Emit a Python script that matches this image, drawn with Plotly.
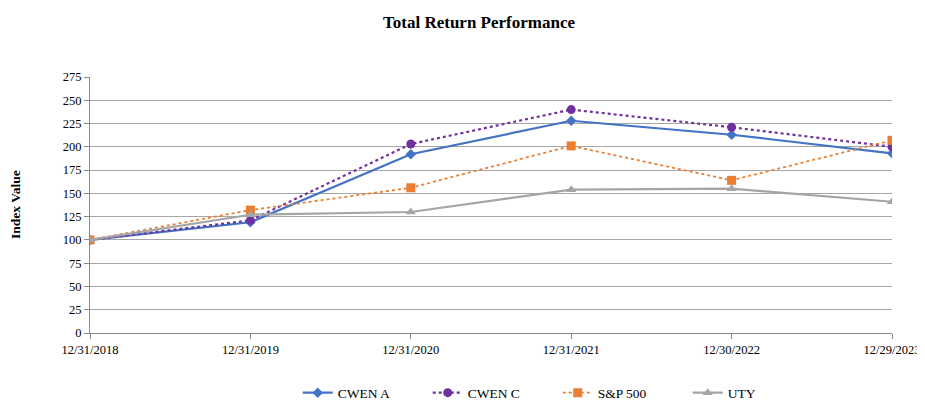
import plotly.graph_objects as go

dates = ["12/31/2018", "12/31/2019", "12/31/2020", "12/31/2021", "12/30/2022", "12/29/2023"]
cwen_a = [100, 119, 192, 228, 213, 193]
cwen_c = [100, 121, 203, 240, 221, 200]
sp500 = [100, 132, 156, 201, 164, 207]
uty = [100, 127, 130, 154, 155, 141]

y_ticks = list(range(0, 276, 25))

fig = go.Figure()
fig.add_trace(go.Scatter(x=dates, y=cwen_a, name="CWEN A", mode="lines+markers",
                         line=dict(color="#4472C4", width=2.2),
                         marker=dict(symbol="diamond", size=8, color="#4472C4")))
fig.add_trace(go.Scatter(x=dates, y=cwen_c, name="CWEN C", mode="lines+markers",
                         line=dict(color="#7030A0", width=2.2, dash="dot"),
                         marker=dict(symbol="circle", size=9, color="#7030A0")))
fig.add_trace(go.Scatter(x=dates, y=sp500, name="S&P 500", mode="lines+markers",
                         line=dict(color="#ED7D31", width=1.8, dash="dot"),
                         marker=dict(symbol="square", size=9, color="#ED7D31")))
fig.add_trace(go.Scatter(x=dates, y=uty, name="UTY", mode="lines+markers",
                         line=dict(color="#A5A5A5", width=2.2),
                         marker=dict(symbol="triangle-up", size=9, color="#A5A5A5")))

font = "Liberation Serif, Times New Roman, serif"
W, H = 917, 393
fig.update_layout(
    width=W, height=H,
    margin=dict(l=82, r=33, t=69, b=68, autoexpand=False),
    paper_bgcolor="white", plot_bgcolor="white",
    font=dict(family=font, size=12.5, color="#000000"),
    title=dict(text="<b>Total Return Performance</b>", x=471 / W, xref="container", xanchor="center",
               y=1 - 14 / H, yanchor="middle", font=dict(family=font, size=17, color="#000000")),
    showlegend=True,
    legend=dict(orientation="h", x=0.259, xanchor="left", y=-0.234, yanchor="middle",
                font=dict(family=font, size=13.5), entrywidth=85, traceorder="normal"),
    xaxis=dict(type="category", range=[0, 5], showgrid=False, showline=True, automargin=False,
               linecolor="#888888", linewidth=1, ticks="outside", ticklen=5,
               tickcolor="#888888", tickfont=dict(family=font, size=12.5)),
    yaxis=dict(range=[0, 275], tickvals=y_ticks, showgrid=True, gridcolor="#A6A6A6",
               gridwidth=1, showline=True, linecolor="#888888", linewidth=1, automargin=False,
               ticks="outside", ticklen=5, tickcolor="#888888", zeroline=False,
               tickfont=dict(family=font, size=12.5)),
    annotations=[dict(text="<b>Index Value</b>", xref="paper", yref="paper", x=-0.0935, y=0.5,
                      xanchor="center", yanchor="middle", textangle=-90, showarrow=False,
                      font=dict(family=font, size=13.5, color="#000000"))],
)
fig.write_html("out.html")
